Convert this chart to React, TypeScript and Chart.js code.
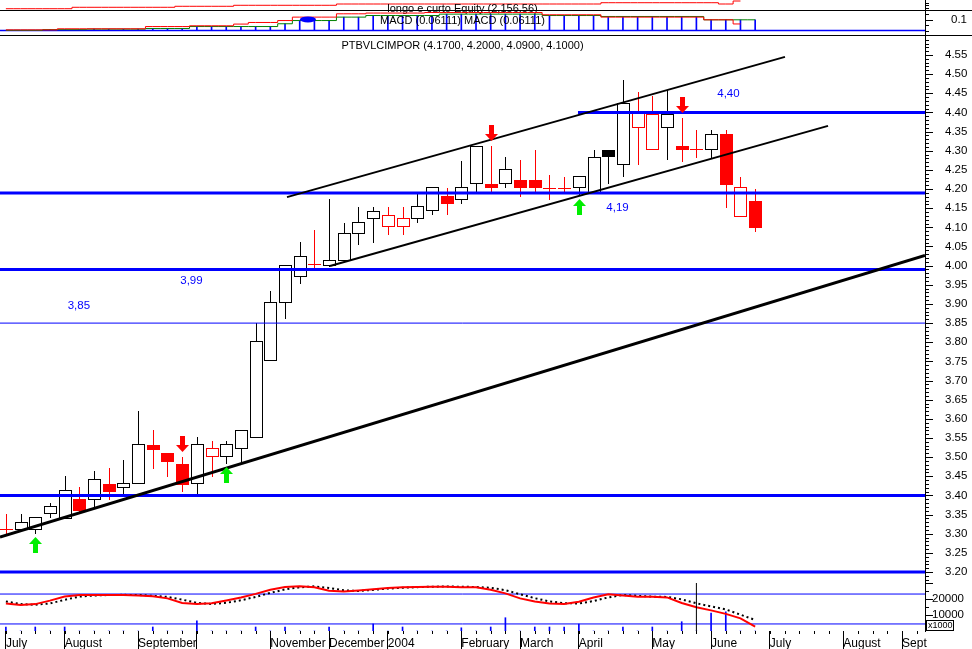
import React, { useEffect, useRef } from 'react';
import { Chart, registerables } from 'chart.js';

Chart.register(...registerables);

const FONT = '"Liberation Sans", Arial, Helvetica, sans-serif';
Chart.defaults.font.family = FONT;
Chart.defaults.color = '#000';

// ---------------- data ----------------
// x = weekly index (0 = week ending Fri 4 Jul 2003)
const X_MIN = -0.4;
const X_MAX = 62.56;

const SYMBOL = 'PTBVLCIMPOR';
const PREV_CLOSE = 3.33;
const OPEN = [3.312, 3.312, 3.312, 3.354, 3.341, 3.391, 3.391, 3.430, 3.422, 3.433, 3.532, 3.511, 3.482, 3.433, 3.503, 3.503, 3.524, 3.553, 3.754, 3.905, 3.973, 4.004, 4.002, 4.015, 4.085, 4.124, 4.103, 4.103, 4.124, 4.145, 4.182, 4.174, 4.216, 4.213, 4.216, 4.224, 4.224, 4.204, 4.203, 4.205, 4.192, 4.302, 4.265, 4.362, 4.305, 4.362, 4.312, 4.304, 4.305, 4.344, 4.130, 4.170];
const HIGH = [3.352, 3.352, 3.344, 3.380, 3.451, 3.422, 3.464, 3.472, 3.493, 3.620, 3.571, 3.511, 3.500, 3.553, 3.542, 3.542, 3.571, 3.850, 3.934, 4.002, 4.062, 4.093, 4.174, 4.111, 4.153, 4.153, 4.153, 4.153, 4.187, 4.205, 4.203, 4.273, 4.312, 4.312, 4.284, 4.276, 4.302, 4.237, 4.232, 4.234, 4.302, 4.302, 4.485, 4.453, 4.443, 4.459, 4.385, 4.354, 4.354, 4.354, 4.232, 4.200];
const LOW = [3.297, 3.310, 3.302, 3.344, 3.341, 3.357, 3.367, 3.391, 3.406, 3.433, 3.472, 3.451, 3.412, 3.406, 3.451, 3.485, 3.485, 3.553, 3.754, 3.863, 3.955, 3.997, 4.000, 4.015, 4.057, 4.062, 4.083, 4.083, 4.114, 4.135, 4.135, 4.164, 4.192, 4.195, 4.205, 4.182, 4.192, 4.174, 4.192, 4.184, 4.192, 4.216, 4.234, 4.265, 4.305, 4.278, 4.273, 4.284, 4.281, 4.153, 4.130, 4.090];
const CLOSE = [3.312, 3.331, 3.344, 3.372, 3.414, 3.362, 3.443, 3.412, 3.433, 3.534, 3.521, 3.490, 3.430, 3.534, 3.524, 3.534, 3.571, 3.803, 3.905, 4.002, 4.025, 4.004, 4.015, 4.085, 4.114, 4.143, 4.132, 4.124, 4.156, 4.205, 4.164, 4.205, 4.312, 4.205, 4.252, 4.206, 4.205, 4.204, 4.203, 4.234, 4.284, 4.287, 4.425, 4.398, 4.395, 4.396, 4.305, 4.304, 4.344, 4.213, 4.205, 4.100];

const BUY_SIGNALS = [2, 15, 39];
const SELL_SIGNALS = [12, 33, 46];

const PRICE_MIN = 3.1714;
const PRICE_MAX = 4.5996;
const PRICE_LABELS = [3.20, 3.25, 3.30, 3.35, 3.40, 3.45, 3.50, 3.55, 3.60, 3.65, 3.70, 3.75, 3.80, 3.85, 3.90, 3.95, 4.00, 4.05, 4.10, 4.15, 4.20, 4.25, 4.30, 4.35, 4.40, 4.45, 4.50, 4.55];

const THICK_LEVELS = [4.19, 3.99, 3.40, 3.20];
const THIN_LEVELS = [3.85];
const RESISTANCE = 4.40;
const RESISTANCE_FROM = 38.94;
const LEVEL_TEXT = ['4,40', '4,19', '3,99', '3,85'];
const LEVEL_TEXT_X = [49.18, 41.63, 12.63, 4.97];
const LEVEL_TEXT_Y = [4.448, 4.1505, 3.960, 3.895];

const TREND_X = [-0.4, 62.56];
const TREND_Y = [3.2915, 4.0265];
const CHANNEL_UP_X = [19.135, 53.03];
const CHANNEL_UP_Y = [4.179, 4.545];
const CHANNEL_LO_X = [22.06, 55.96];
const CHANNEL_LO_Y = [3.999, 4.365];

const EQUITY = [310, 310, 310, 310, 310, 650, 650, 650, 650, 650, 650, 650, 890, 890, 890, 890, 1130, 1130, 1130, 1130, 1130, 1130, 1130, 1440, 1440, 1440, 1440, 1440, 1440, 1440, 1440, 1440, 1440, 1440, 1440, 1440, 1440, 1440, 1440, 1440, 1440, 1750, 1750, 1750, 1750, 1750, 1750, 1750, 1750, 1440, 2156.56, null];
const EQ_MIN = 0;
const EQ_MAX = 2400;

const MACD = [0.006, 0.006, 0.006, 0.006, 0.016, 0.016, 0.016, 0.016, 0.016, 0.016, 0.037, 0.037, 0.037, 0.044, 0.044, 0.044, 0.06, 0.075, 0.075, 0.093, 0.125, 0.125, 0.125, 0.156, 0.156, 0.163, 0.163, 0.163, 0.163, 0.168, 0.168, 0.168, 0.168, 0.168, 0.168, 0.168, 0.168, 0.147, 0.147, 0.147, 0.147, 0.125, 0.125, 0.125, 0.125, 0.125, 0.125, 0.125, 0.1, 0.1, 0.06111, null];
const SIGNAL = [0.002, 0.002, 0.002, 0.008, 0.008, 0.008, 0.013, 0.013, 0.013, 0.013, 0.019, 0.019, 0.019, 0.037, 0.037, 0.037, 0.037, 0.037, 0.037, 0.063, 0.093, 0.093, 0.093, 0.125, 0.125, 0.14, 0.14, 0.14, 0.14, 0.14, 0.153, 0.153, 0.153, 0.153, 0.153, 0.153, 0.153, 0.14, 0.14, 0.14, 0.14, 0.131, 0.131, 0.131, 0.131, 0.131, 0.131, 0.131, 0.1, 0.1, 0.1, 0.1];
const HIST = [0.002, 0.002, 0.002, 0.008, 0.008, 0.008, 0.013, 0.013, 0.013, 0.013, 0.019, 0.019, 0.019, 0.037, 0.037, 0.037, 0.037, 0.037, 0.037, 0.063, 0.093, 0.093, 0.093, 0.125, 0.125, 0.14, 0.14, 0.14, 0.14, 0.14, 0.153, 0.153, 0.153, 0.153, 0.153, 0.153, 0.153, 0.14, 0.14, 0.14, 0.14, 0.131, 0.131, 0.131, 0.131, 0.131, 0.131, 0.131, 0.1, 0.1, 0.1, 0.1];
const MACD_MARK_X = 20.56;
const MACD_MARK_Y = 0.103;
const MACD_MIN = -0.042;
const MACD_MAX = 0.1822;

const VOL_FAST = [17200, 16300, 16800, 19000, 21600, 22500, 22500, 22500, 22500, 22200, 21700, 20400, 17500, 16800, 17300, 19000, 20900, 23200, 25800, 27500, 27900, 27400, 25100, 24700, 25300, 26100, 26800, 27300, 27500, 27700, 27600, 27400, 27300, 25800, 23500, 20400, 18400, 17200, 16900, 18300, 20900, 22900, 22200, 21400, 21400, 21000, 17500, 14800, 12900, 10700, 7900, 2700];
const VOL_SLOW = [18500, 16800, 16400, 17200, 19500, 21500, 22200, 22500, 22600, 22500, 22000, 21300, 19600, 17600, 16900, 17600, 19200, 21300, 23800, 26000, 27300, 27900, 26900, 25400, 25000, 25700, 26500, 27000, 27400, 27700, 27800, 27700, 27500, 27000, 25500, 23000, 20500, 18500, 17400, 17200, 18700, 21000, 22500, 22000, 21500, 21300, 19800, 17300, 15400, 13500, 10200, 6900];
const VOLUME = [2500, 0, 2500, 0, 2500, 0, 0, 0, 0, 0, 2500, 0, 0, 6400, 0, 0, 0, 2500, 0, 2500, 0, 0, 2500, 0, 0, 4400, 0, 2500, 0, 0, 0, 2000, 0, 2500, 8300, 0, 2500, 2500, 2500, 4400, 0, 0, 2500, 0, 2500, 0, 5800, 0, 11200, 12000, 0, 0];
const VOL_LEVELS = [23100, 4400];
const CURSOR_INDEX = 47;
const VOL_MIN = 0;
const VOL_MAX = 30000;
const VOL_LABELS = [10000, 20000];

const MONTH_TICKS = [0, 4, 9, 13, 18, 22, 26, 31, 35, 39, 44, 48, 52, 57, 61];
const MONTH_LABELS = ['July', 'August', 'September', '', 'November', 'December', '2004', 'February', 'March', 'April', 'May', 'June', 'July', 'August', 'Sept'];

// ---------------- layout / style ----------------
const PAGE_W = 972;
const PAGE_H = 649;
const AXIS_W = 47;
const EQ_AREA = [0, 10];
const MACD_AREA = [11, 35];
const PRICE_AREA = [36, 583];
const VOL_AREA = [583, 631];
const BLUE = '#0000ff';
const RED = '#ff0000';
const BLACK = '#000000';
const LIME = '#00ee00';
const GREEN = '#008000';

const pts = (vals: any[]) => vals.map((v, i) => ({ x: i, y: v }));
const seg = (xs: number[], ys: number[]) => [{ x: xs[0], y: ys[0] }, { x: xs[1], y: ys[1] }];
const hline = (v: number, from = X_MIN, to = X_MAX) => [{ x: from, y: v }, { x: to, y: v }];

function lineDs(data: any[], color: string, width: number, extra: any = {}) {
  return { type: 'line', data, borderColor: color, backgroundColor: color, borderWidth: width, pointRadius: 0, pointHoverRadius: 0, fill: false, tension: 0, ...extra };
}

function hiddenX() {
  return { type: 'linear', display: false, min: X_MIN, max: X_MAX, offset: false, grid: { offset: false } };
}

function rightAxis(min: number, max: number, tickValues: number[], fmt: (v: number) => string, padding: number, show = true) {
  return {
    type: 'linear', position: 'right', min, max,
    afterBuildTicks: (s: any) => { s.ticks = tickValues.map((value) => ({ value })); },
    afterFit: (s: any) => { s.width = AXIS_W; s.paddingTop = 0; s.paddingBottom = 0; },
    grid: { display: false, drawTicks: false, tickLength: 0 },
    border: { display: true, color: BLACK, width: 1 },
    ticks: { display: show, autoSkip: false, crossAlign: 'near', padding, color: BLACK, font: { family: FONT, size: 11.5 }, callback: (v: any) => fmt(Number(v)) },
  };
}

function baseOptions(area: number[], bottomPad: number, scales: any) {
  return {
    responsive: false,
    animation: false,
    events: [],
    layout: { padding: { left: 0, right: 0, top: area[0], bottom: bottomPad } },
    plugins: { legend: { display: false }, tooltip: { enabled: false }, title: { display: false } },
    scales,
  };
}

function drawRightTicks(chart: any, minor: number[], major: number[]) {
  const s = chart.scales.y;
  const ctx = chart.ctx;
  const x = Math.round(s.left);
  ctx.save();
  ctx.fillStyle = BLACK;
  const put = (v: number, len: number) => {
    const y = Math.round(s.getPixelForValue(v));
    if (y < s.top - 1 || y > s.bottom) return;
    ctx.fillRect(x, y, len, 1);
  };
  minor.forEach((v) => put(v, 4));
  major.forEach((v) => put(v, 8));
  ctx.restore();
}

function drawTitle(chart: any, text: string, dy: number) {
  const ctx = chart.ctx;
  const a = chart.chartArea;
  ctx.save();
  ctx.font = `11px ${FONT}`;
  ctx.fillStyle = BLACK;
  ctx.textAlign = 'center';
  ctx.textBaseline = 'middle';
  ctx.fillText(text, (a.left + a.right) / 2, a.top + dy);
  ctx.restore();
}

function stepTicks(from: number, to: number, step: number) {
  const out: number[] = [];
  for (let k = Math.round(from / step); k * step <= to + 1e-9; k++) out.push(+(k * step).toFixed(6));
  return out;
}

// ---------------- price panel ----------------
const pricePlugin = {
  id: 'pricePanel',
  beforeDatasetsDraw(chart: any) {
    const ctx = chart.ctx;
    const xs = chart.scales.x;
    const ys = chart.scales.y;
    const half = 6;
    ctx.save();
    for (let i = 0; i < OPEN.length; i++) {
      const o = OPEN[i], h = HIGH[i], l = LOW[i], c = CLOSE[i];
      const prev = i === 0 ? PREV_CLOSE : CLOSE[i - 1];
      const color = c < prev ? RED : BLACK;
      const cx = Math.round(xs.getPixelForValue(i));
      const yH = Math.round(ys.getPixelForValue(h));
      const yL = Math.round(ys.getPixelForValue(l));
      const yO = Math.round(ys.getPixelForValue(o));
      const yC = Math.round(ys.getPixelForValue(c));
      ctx.fillStyle = color;
      ctx.fillRect(cx, yH, 1, yL - yH + 1);
      const top = Math.min(yO, yC);
      const bot = Math.max(yO, yC);
      if (o === c) {
        ctx.fillRect(cx - half, top, 2 * half + 1, 1);
      } else if (c < o) {
        ctx.fillRect(cx - half, top, 2 * half + 1, bot - top + 1);
      } else {
        ctx.fillStyle = '#ffffff';
        ctx.fillRect(cx - half, top, 2 * half + 1, bot - top + 1);
        ctx.strokeStyle = color;
        ctx.lineWidth = 1;
        ctx.strokeRect(cx - half + 0.5, top + 0.5, 2 * half, bot - top);
      }
    }
    ctx.restore();
  },
  afterDatasetsDraw(chart: any) {
    const ctx = chart.ctx;
    const xs = chart.scales.x;
    const ys = chart.scales.y;
    const arrow = (cx: number, tip: number, dir: number, color: string) => {
      ctx.fillStyle = color;
      ctx.beginPath();
      ctx.moveTo(cx + 0.5, tip);
      ctx.lineTo(cx + 0.5 + 6.5, tip + dir * 7);
      ctx.lineTo(cx + 0.5 - 6.5, tip + dir * 7);
      ctx.closePath();
      ctx.fill();
      ctx.fillRect(cx - 2, dir === 1 ? tip + 7 : tip - 16, 5, 9);
    };
    ctx.save();
    BUY_SIGNALS.forEach((i) => {
      arrow(Math.round(xs.getPixelForValue(i)), Math.round(ys.getPixelForValue(LOW[i])) + 4, 1, LIME);
    });
    SELL_SIGNALS.forEach((i) => {
      arrow(Math.round(xs.getPixelForValue(i)), Math.round(ys.getPixelForValue(HIGH[i])) - 5, -1, RED);
    });
    ctx.font = `11.5px ${FONT}`;
    ctx.fillStyle = BLUE;
    ctx.textAlign = 'center';
    ctx.textBaseline = 'middle';
    LEVEL_TEXT.forEach((t, k) => {
      ctx.fillText(t, xs.getPixelForValue(LEVEL_TEXT_X[k]), ys.getPixelForValue(LEVEL_TEXT_Y[k]));
    });
    ctx.restore();
  },
  afterDraw(chart: any) {
    const major = PRICE_LABELS;
    const minor = stepTicks(3.18, 4.59, 0.01);
    drawRightTicks(chart, minor, major);
    const n = OPEN.length - 1;
    const t = `${SYMBOL} (${OPEN[n].toFixed(4)}, ${HIGH[n].toFixed(4)}, ${LOW[n].toFixed(4)}, ${CLOSE[n].toFixed(4)})`;
    drawTitle(chart, t, 10);
  },
};

function priceConfig(): any {
  return {
    type: 'line',
    data: {
      datasets: [
        lineDs(seg(TREND_X, TREND_Y), BLACK, 3),
        lineDs(seg(CHANNEL_UP_X, CHANNEL_UP_Y), BLACK, 2),
        lineDs(seg(CHANNEL_LO_X, CHANNEL_LO_Y), BLACK, 2),
        ...THICK_LEVELS.map((v) => lineDs(hline(v), BLUE, 3)),
        lineDs(hline(RESISTANCE, RESISTANCE_FROM), BLUE, 3),
        ...THIN_LEVELS.map((v) => lineDs(hline(v), BLUE, 1)),
      ],
    },
    options: baseOptions(PRICE_AREA, PAGE_H - PRICE_AREA[1], {
      x: hiddenX(),
      y: rightAxis(PRICE_MIN, PRICE_MAX, PRICE_LABELS, (v) => v.toFixed(2), 20),
    }),
    plugins: [pricePlugin],
  };
}

// ---------------- equity panel ----------------
const equityPlugin = {
  id: 'equityPanel',
  afterDraw(chart: any) {
    drawRightTicks(chart, [600, 1200, 1800], []);
    const last = EQUITY.filter((v) => v !== null).slice(-1)[0] as number;
    const txt = `longo e curto Equity (${last.toLocaleString('en-US', { minimumFractionDigits: 2, maximumFractionDigits: 2 })})`;
    drawTitle(chart, txt, 9);
  },
};

function equityConfig(): any {
  return {
    type: 'line',
    data: { datasets: [lineDs(pts(EQUITY), RED, 1, { stepped: 'middle' })] },
    options: baseOptions(EQ_AREA, PAGE_H - EQ_AREA[1], {
      x: hiddenX(),
      y: rightAxis(EQ_MIN, EQ_MAX, [1200], () => '', 0, false),
    }),
    plugins: [equityPlugin],
  };
}

// ---------------- MACD panel ----------------
const macdPlugin = {
  id: 'macdPanel',
  afterDatasetsDraw(chart: any) {
    const ctx = chart.ctx;
    const x = chart.scales.x.getPixelForValue(MACD_MARK_X);
    const y = chart.scales.y.getPixelForValue(MACD_MARK_Y);
    ctx.save();
    ctx.fillStyle = BLUE;
    ctx.beginPath();
    ctx.ellipse(x, y, 8, 3, 0, 0, Math.PI * 2);
    ctx.fill();
    ctx.restore();
  },
  afterDraw(chart: any) {
    drawRightTicks(chart, [0, 0.05, 0.15], [0.1]);
    const v = MACD.filter((m) => m !== null).slice(-1)[0] as number;
    drawTitle(chart, `MACD (${v.toFixed(5)}) MACD (${v.toFixed(5)})`, 10);
    const ctx = chart.ctx;
    const a = chart.chartArea;
    ctx.save();
    ctx.strokeStyle = BLACK;
    ctx.lineWidth = 1;
    ctx.beginPath();
    ctx.moveTo(0, a.top - 0.5);
    ctx.lineTo(chart.width, a.top - 0.5);
    ctx.moveTo(0, a.bottom + 0.5);
    ctx.lineTo(chart.width, a.bottom + 0.5);
    ctx.stroke();
    ctx.restore();
  },
};

function macdConfig(): any {
  return {
    type: 'line',
    data: {
      datasets: [
        lineDs(pts(MACD), RED, 1, { stepped: 'middle' }),
        lineDs(pts(SIGNAL), GREEN, 1, { stepped: 'middle' }),
        lineDs(hline(0), BLUE, 1.5),
        { type: 'bar', data: pts(HIST), backgroundColor: BLUE, borderWidth: 0, barThickness: 1 },
      ],
    },
    options: baseOptions(MACD_AREA, PAGE_H - MACD_AREA[1], {
      x: hiddenX(),
      y: rightAxis(MACD_MIN, MACD_MAX, [0.1], (v) => String(+v.toFixed(2)), 26),
    }),
    plugins: [macdPlugin],
  };
}

// ---------------- volume panel + date axis ----------------
const volPlugin = {
  id: 'volPanel',
  afterDraw(chart: any) {
    const ctx = chart.ctx;
    const xs = chart.scales.x;
    const ys = chart.scales.y;
    const a = chart.chartArea;
    ctx.save();
    ctx.fillStyle = BLACK;
    for (let i = Math.ceil(X_MIN); i <= X_MAX; i++) {
      const x = Math.round(xs.getPixelForValue(i));
      ctx.fillRect(x, a.bottom, 1, 3);
    }
    ctx.restore();
    drawRightTicks(chart, [5000, 15000, 25000], [10000, 20000, 30000]);
    const left = Math.round(ys.left) + 1;
    const top = Math.round(ys.bottom) - 11;
    ctx.save();
    ctx.fillStyle = '#ffffff';
    ctx.fillRect(left, top, 28, 11);
    ctx.strokeStyle = BLACK;
    ctx.lineWidth = 1;
    ctx.strokeRect(left + 0.5, top + 0.5, 27, 10);
    ctx.fillStyle = BLACK;
    ctx.font = `9px ${FONT}`;
    ctx.textAlign = 'left';
    ctx.textBaseline = 'middle';
    ctx.fillText('x1000', left + 2, top + 6);
    ctx.restore();
  },
};

function volConfig(): any {
  return {
    type: 'line',
    data: {
      datasets: [
        lineDs([{ x: CURSOR_INDEX, y: VOL_MIN }, { x: CURSOR_INDEX, y: VOL_MAX }], BLACK, 1),
        lineDs(pts(VOL_FAST), RED, 2),
        lineDs(pts(VOL_SLOW), BLACK, 2, { borderDash: [2, 3] }),
        ...VOL_LEVELS.map((v) => lineDs(hline(v), BLUE, 1)),
        { type: 'bar', data: pts(VOLUME), backgroundColor: BLUE, borderWidth: 0, barThickness: 1 },
      ],
    },
    options: baseOptions(VOL_AREA, 0, {
      x: {
        type: 'linear', position: 'bottom', min: X_MIN, max: X_MAX, offset: false,
        afterBuildTicks: (s: any) => { s.ticks = MONTH_TICKS.map((value) => ({ value })); },
        afterFit: (s: any) => { s.height = PAGE_H - VOL_AREA[1]; s.paddingLeft = 0; s.paddingRight = 0; },
        grid: { display: true, drawOnChartArea: false, drawTicks: true, tickLength: 18, color: BLACK, lineWidth: 1, offset: false },
        border: { display: false },
        ticks: {
          autoSkip: false, maxRotation: 0, minRotation: 0, align: 'start', padding: -13, color: BLACK,
          font: { family: FONT, size: 12, lineHeight: 1.2 },
          callback: (_v: any, i: number) => MONTH_LABELS[i] ?? '',
        },
      },
      y: rightAxis(VOL_MIN, VOL_MAX, VOL_LABELS, (v) => v.toFixed(0), 7),
    }),
    plugins: [volPlugin],
  };
}

export default function App() {
  const priceRef = useRef<HTMLCanvasElement>(null);
  const volRef = useRef<HTMLCanvasElement>(null);
  const eqRef = useRef<HTMLCanvasElement>(null);
  const macdRef = useRef<HTMLCanvasElement>(null);

  useEffect(() => {
    const charts = [
      new Chart(priceRef.current as any, priceConfig()),
      new Chart(volRef.current as any, volConfig()),
      new Chart(eqRef.current as any, equityConfig()),
      new Chart(macdRef.current as any, macdConfig()),
    ];
    return () => charts.forEach((c) => c.destroy());
  }, []);

  const st: any = { position: 'absolute', left: 0, top: 0, width: PAGE_W + 'px', height: PAGE_H + 'px' };
  return (
    <div style={{ position: 'absolute', left: 0, top: 0, width: PAGE_W, height: PAGE_H, background: '#ffffff', overflow: 'hidden' }}>
      <canvas ref={priceRef} width={PAGE_W} height={PAGE_H} style={st} />
      <canvas ref={volRef} width={PAGE_W} height={PAGE_H} style={st} />
      <canvas ref={eqRef} width={PAGE_W} height={PAGE_H} style={st} />
      <canvas ref={macdRef} width={PAGE_W} height={PAGE_H} style={st} />
    </div>
  );
}
